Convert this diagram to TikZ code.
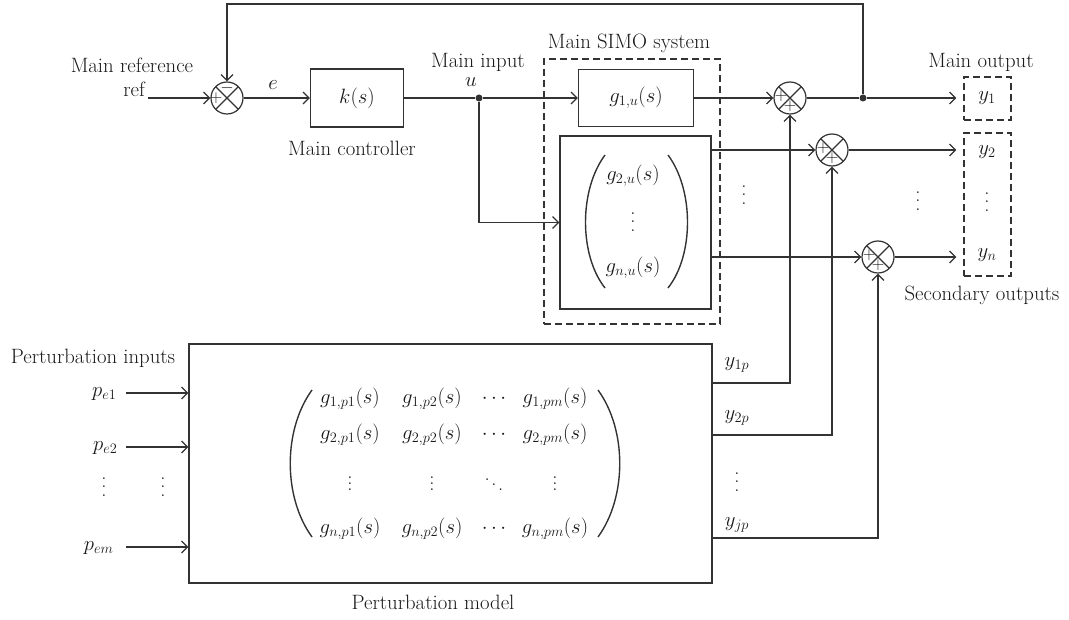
\documentclass[tikz,border=0pt]{standalone}
\usetikzlibrary{arrows.meta,calc}
\definecolor{ln}{HTML}{333333}
\newcommand{\Vd}[1]{\vbox{\baselineskip#1\lineskiplimit0pt\hbox{.}\hbox{.}\hbox{.}}}
\newcommand{\Dd}{\mbox{\raisebox{10pt}{.}\hspace{1.5pt}\raisebox{5pt}{.}\hspace{1.5pt}\raisebox{0pt}{.}}}
\begin{document}
\begin{tikzpicture}[x=1pt,y=-1pt,line width=1.2pt,draw=ln,
  every node/.style={font=\fontsize{20.74}{24}\selectfont,text=black!90,inner sep=1pt},
  arr/.style={-{Straight Barb[length=6pt,width=12pt]}},
  box/.style={draw,inner sep=0pt},
  obox/.style={draw,inner sep=0pt,dash pattern=on 7pt off 4pt},
  sum/.style={draw,circle,minimum size=32pt,inner sep=0pt,
    path picture={\draw[line width=1.2pt] (path picture bounding box.north west) -- (path picture bounding box.south east)
      (path picture bounding box.north east) -- (path picture bounding box.south west);}},
  sgn/.style={font=\fontsize{17.28}{18}\selectfont,inner sep=0pt},
  dot/.style={circle,fill=ln,inner sep=0pt,minimum size=7pt},
  paren/.style={line width=1.4pt}]
\useasboundingbox (0,0) rectangle (1069,620);

% main loop
\node (mref) at (132,65) {Main reference};
\node (reft) at (134,89) {ref};
\coordinate (refin) at (148,98);
\node[sum] (s0) at (227,98) {};
\node[sgn] (s0a) at (216,98) {$+$};
\node[sgn] (s0b) at (227,88) {$-$};
\node[box,minimum width=93pt,minimum height=58pt] (k) at (357,98) {$k(s)$};
\node (mc) at (352,148) {Main controller};
\node (el) at (273,85) {$e$};
\draw[arr] (refin) -- (s0.west);
\draw[arr] (s0.east) -- (k.west);

\node[dot] (u) at (479,98) {};
\node (mi) at (478,62) {Main input};
\node (ul) at (471,82) {$u$};
\node[box,minimum width=115pt,minimum height=57pt] (g1) at (636,98) {$g_{1,u}(s)$};
\node[box,minimum width=151pt,minimum height=173pt] (gb) at (635.5,222.5) {};
\node (g2u) at (633,176) {$g_{2,u}(s)$};
\node (gdu) at (633,222) {$\Vd{8.5pt}$};
\node (gnu) at (633,268) {$g_{n,u}(s)$};
\draw[paren] (605,155) .. controls (579,190) and (579,255) .. (605,288);
\draw[paren] (668,155) .. controls (694,190) and (694,255) .. (668,288);
\draw (k.east) -- (u);
\draw[arr] (u) -- (g1.west);
\draw[arr] (u) |- (gb.west);
\node[obox,minimum width=176pt,minimum height=265pt] (simo) at (632,191.5) {};
\node (simol) at (629,43) {Main SIMO system};

% summing junctions
\node[sum] (s1) at (790,98) {};
\node[sum] (s2) at (832,150) {};
\node[sum] (s3) at (878,257) {};
\foreach \s in {s1,s2,s3}{
  \node[sgn] at ($(\s)+(-9,-2)$) {$+$};
  \node[sgn] at ($(\s)+(0,8)$) {$+$};
}
\draw[arr] (g1.east) -- (s1.west);
\draw[arr] (gb.east |- s2.west) -- (s2.west);
\draw[arr] (gb.east |- s3.west) -- (s3.west);
\node (vd1) at (744,195) {$\Vd{8.5pt}$};

% outputs
\node[dot] (j) at (863,98) {};
\draw (s1.east) -- (j);
\node[obox,minimum width=47pt,minimum height=43pt] (y1b) at (987.5,98.5) {};
\node (y1) at (987,98) {$y_1$};
\node[obox,minimum width=47pt,minimum height=143pt] (ynb) at (987.5,204.5) {};
\node (y2) at (987,152) {$y_2$};
\node (ydd) at (987,202) {$\Vd{8.5pt}$};
\node (yn) at (987,255) {$y_n$};
\draw[arr,shorten >=7pt] (j) -- (j -| y1b.west);
\draw[arr,shorten >=7pt] (s2.east) -- (s2 -| ynb.west);
\draw[arr,shorten >=7pt] (s3.east) -- (s3 -| ynb.west);
\node (vd2) at (918,201) {$\Vd{8.5pt}$};
\node (mo) at (981,62) {Main output};
\node (so) at (982,295) {Secondary outputs};

% feedback
\coordinate (fbr) at (863,4);
\coordinate (fbl) at (227,4);
\draw[arr] (j) -- (fbr) -- (fbl) -- (s0.north);

% perturbation model
\node[box,minimum width=523pt,minimum height=239pt] (P) at (450.5,463.5) {};
\node (pm) at (433,602) {Perturbation model};
\node (pin) at (93,358) {Perturbation inputs};
\coordinate (pe1s) at (126,393);
\coordinate (pe2s) at (126,447);
\coordinate (pems) at (126,547);
\draw[arr] (pe1s) -- (pe1s -| P.west);
\draw[arr] (pe2s) -- (pe2s -| P.west);
\draw[arr] (pems) -- (pems -| P.west);
\node[anchor=east] (pe1) at (118,394) {$p_{e1}$};
\node[anchor=east] (pe2) at (119,448) {$p_{e2}$};
\node[anchor=east] (pem) at (115,548) {$p_{em}$};
\node (pv1) at (104,487) {$\Vd{8.5pt}$};
\node (pv2) at (163,487) {$\Vd{8.5pt}$};

% matrix
\node (m11) at (350,399) {$g_{1,p1}(s)$};
\node (m12) at (432,399) {$g_{1,p2}(s)$};
\node (m13) at (494,399) {$\cdots$};
\node (m14) at (555,399) {$g_{1,pm}(s)$};
\node (m21) at (350,435) {$g_{2,p1}(s)$};
\node (m22) at (432,435) {$g_{2,p2}(s)$};
\node (m23) at (494,435) {$\cdots$};
\node (m24) at (555,435) {$g_{2,pm}(s)$};
\node (m31) at (350,484) {$\Vd{6pt}$};
\node (m32) at (432,484) {$\Vd{6pt}$};
\node (m33) at (494,485) {\Dd};
\node (m34) at (555,484) {$\Vd{6pt}$};
\node (m41) at (350,529) {$g_{n,p1}(s)$};
\node (m42) at (432,529) {$g_{n,p2}(s)$};
\node (m43) at (494,529) {$\cdots$};
\node (m44) at (555,529) {$g_{n,pm}(s)$};
\draw[paren] (312,390) .. controls (283,430) and (283,497) .. (312,537);
\draw[paren] (598,390) .. controls (627,430) and (627,497) .. (598,537);

% perturbation outputs
\coordinate (o1) at (712,383);
\coordinate (o2) at (712,435);
\coordinate (o3) at (712,538);
\draw[arr] (o1) -| (s1.south);
\draw[arr] (o2) -| (s2.south);
\draw[arr] (o3) -| (s3.south);
\node (y1p) at (737,365) {$y_{1p}$};
\node (y2p) at (737,418) {$y_{2p}$};
\node (ydp) at (737,482) {$\Vd{8.5pt}$};
\node (yjp) at (737,525) {$y_{jp}$};
\end{tikzpicture}
\end{document}
